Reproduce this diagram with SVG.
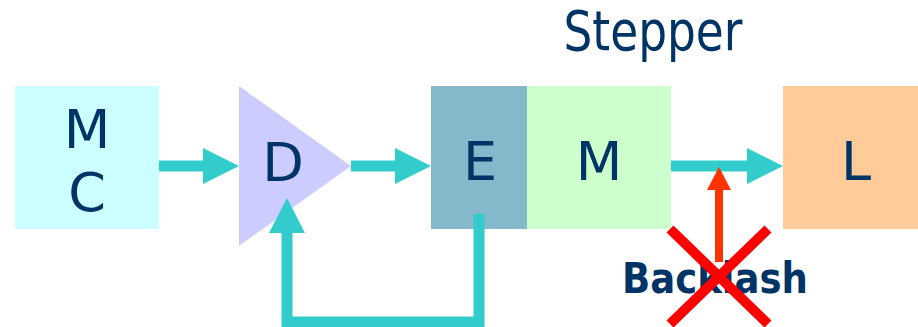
<svg xmlns="http://www.w3.org/2000/svg" width="918" height="327" viewBox="0 0 918 327">
<style>
.lbl{font-family:"DejaVu Sans",Verdana,sans-serif;font-size:54px;fill:#003366;text-anchor:middle}
.bold{font-family:"DejaVu Sans",Verdana,sans-serif;font-weight:bold;font-size:43px;fill:#003366}
.wire{fill:none;stroke:#33cccc;stroke-width:11}
.head{fill:#33cccc}
</style>
<rect width="918" height="327" fill="#ffffff"/>
<g id="MC">
<rect x="15" y="86" width="144" height="143" fill="#ccffff"/>
<text class="lbl" x="87" y="148">M</text>
<text class="lbl" x="87" y="211">C</text>
</g>
<g id="D">
<polygon points="239,86 351,166 239,246" fill="#ccccff"/>
<text class="lbl" x="283" y="181">D</text>
</g>
<g id="E">
<rect x="431" y="86" width="96" height="143" fill="#86b8cc"/>
<text class="lbl" x="480" y="180">E</text>
</g>
<g id="M">
<rect x="527" y="86" width="144" height="143" fill="#ccffcc"/>
<text class="lbl" x="599" y="180">M</text>
</g>
<g id="L">
<rect x="783" y="86" width="135" height="143" fill="#ffcc99"/>
<text class="lbl" x="856" y="180">L</text>
</g>
<text id="stepper" class="lbl" x="653" y="50" style="font-size:55px" textLength="179" lengthAdjust="spacingAndGlyphs">Stepper</text>
<g id="connectors">
<line class="wire" x1="159" y1="166" x2="205" y2="166"/>
<polygon class="head" points="203,148 239,166 203,184"/>
<line class="wire" x1="351" y1="166" x2="397" y2="166"/>
<polygon class="head" points="395,148 431,166 395,184"/>
<line class="wire" x1="671" y1="166" x2="749" y2="166"/>
<polygon class="head" points="747,148 783,166 747,184"/>
<polyline class="wire" points="479,214 479,322 287,322 287,231"/>
<polygon class="head" points="269,233 287,198 305,233"/>
</g>
<g id="backlash">
<line x1="719" y1="262" x2="719" y2="188" stroke="#ff3300" stroke-width="8"/>
<polygon points="707,190 719,167 731,190" fill="#ff3300"/>
<text class="bold" x="622" y="293" textLength="186" lengthAdjust="spacingAndGlyphs">Backlash</text>
<line x1="670" y1="229" x2="768" y2="324" stroke="#ff0000" stroke-width="10"/>
<line x1="768" y1="229" x2="670" y2="324" stroke="#ff0000" stroke-width="10"/>
</g>
</svg>
